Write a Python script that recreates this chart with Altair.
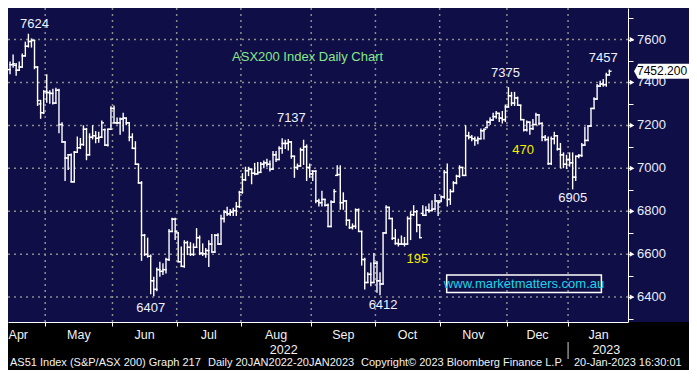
import altair as alt
import pandas as pd

# ---------------- data ----------------
opens = [
    7460, 7483, 7480, 7457, 7472, 7524, 7569, 7591, 7596, 7472, 7300, 7259,
    7358, 7353, 7349, 7304, 7364, 7204, 7123, 7048, 7063, 6937, 7075, 7096, 7111, 7182, 7063, 7145, 7152, 7140, 7145, 7180, 7108, 7182,
    7279, 7212, 7212, 7230, 7234, 7212, 7145, 7093, 7019, 6932, 6688, 6599, 6590, 6476, 6436, 6528, 6520, 6528, 6575, 6706, 6763,
    6699, 6565, 6543, 6654, 6632, 6599, 6632, 6677, 6605, 6602, 6617, 6647, 6610, 6688, 6647, 6766, 6796, 6788, 6796, 6803, 6822,
    6888, 6947, 6989, 6996, 6977, 6974, 6981, 7019, 7026, 7019, 6996, 7063, 7041, 7093, 7116, 7116, 7123, 7056, 7004, 7011, 7086, 7100, 7004,
    6974, 6986, 6848, 6840, 6855, 6828, 6729, 6843, 6967, 6971, 6840, 6848, 6758, 6724, 6730, 6807, 6706, 6575, 6468, 6506, 6468,
    6558, 6476, 6461, 6699, 6818, 6766, 6674, 6650, 6647, 6647, 6647, 6766, 6784, 6798, 6736, 6790, 6781, 6805, 6803, 6810, 6848,
    6848, 6867, 6981, 6855, 6892, 6932, 6963, 7004, 6967, 7152, 7145, 7138, 7130, 7138, 7175, 7190, 7215, 7225, 7241, 7256, 7234, 7227,
    7286, 7338, 7304, 7328, 7294, 7227, 7179, 7215, 7185, 7204, 7249, 7209, 7145, 7134, 7022, 7138, 7152, 7090, 7063, 7019,
    7040, 7026, 6959, 7056, 7060, 7108, 7130, 7197, 7279, 7323, 7383, 7393, 7390, 7435,
]
highs = [
    7494, 7527, 7487, 7494, 7532, 7587, 7624, 7602, 7596, 7472, 7316, 7361,
    7435, 7361, 7368, 7372, 7368, 7212, 7123, 7063, 7066, 7078, 7145, 7138, 7197, 7185, 7160, 7197, 7170, 7167, 7219, 7182, 7182, 7286,
    7289, 7234, 7234, 7256, 7234, 7212, 7160, 7123, 7019, 6937, 6691, 6674, 6595, 6491, 6535, 6561, 6555, 6580, 6714, 6766, 6766,
    6699, 6632, 6662, 6659, 6653, 6647, 6718, 6684, 6647, 6625, 6662, 6691, 6691, 6694, 6781, 6803, 6818, 6807, 6813, 6840, 6892,
    6974, 7004, 7004, 6996, 7022, 7026, 7026, 7033, 7041, 7033, 7078, 7078, 7100, 7137, 7130, 7133, 7123, 7056, 7019, 7093, 7130, 7108, 7019,
    6989, 6989, 6855, 6892, 6855, 6833, 6848, 6900, 7011, 7011, 6885, 6848, 6758, 6740, 6810, 6810, 6706, 6580, 6513, 6558, 6602,
    6565, 6513, 6699, 6825, 6818, 6766, 6714, 6669, 6684, 6677, 6773, 6796, 6825, 6803, 6736, 6825, 6820, 6833, 6848, 6877, 6848,
    6870, 6989, 7019, 6900, 6937, 6967, 7011, 7004, 7197, 7167, 7152, 7145, 7145, 7182, 7182, 7219, 7235, 7256, 7264, 7256, 7264, 7294,
    7375, 7353, 7353, 7331, 7294, 7227, 7219, 7215, 7227, 7256, 7249, 7212, 7152, 7145, 7145, 7167, 7152, 7115, 7071, 7060,
    7071, 7071, 7056, 7063, 7115, 7190, 7197, 7279, 7328, 7390, 7405, 7413, 7442, 7457,
]
lows = [
    7442, 7472, 7435, 7457, 7472, 7524, 7566, 7566, 7465, 7294, 7234, 7256,
    7309, 7304, 7301, 7304, 7167, 7123, 6944, 6996, 6937, 6937, 7075, 7093, 7108, 7041, 7063, 7138, 7120, 7123, 7145, 7108, 7105, 7182,
    7212, 7209, 7160, 7175, 7204, 7130, 7093, 7019, 6932, 6572, 6595, 6587, 6416, 6407, 6431, 6498, 6506, 6513, 6572, 6706, 6669,
    6565, 6543, 6540, 6599, 6595, 6595, 6632, 6599, 6595, 6587, 6543, 6610, 6610, 6647, 6647, 6751, 6781, 6781, 6781, 6781, 6818,
    6885, 6944, 6967, 6929, 6971, 6974, 6981, 7004, 7011, 6989, 6996, 7033, 7041, 7071, 7093, 7086, 7048, 6959, 6996, 7011, 7019, 6944, 6959,
    6944, 6840, 6825, 6825, 6825, 6729, 6729, 6843, 6967, 6810, 6810, 6736, 6721, 6718, 6721, 6706, 6550, 6439, 6468, 6454, 6468,
    6424, 6412, 6461, 6699, 6766, 6669, 6647, 6639, 6647, 6639, 6647, 6669, 6781, 6706, 6677, 6781, 6781, 6796, 6803, 6810, 6781,
    6845, 6862, 6825, 6833, 6892, 6929, 6959, 6967, 6967, 7138, 7130, 7108, 7115, 7138, 7138, 7190, 7205, 7225, 7234, 7219, 7212, 7219,
    7286, 7294, 7294, 7294, 7227, 7175, 7175, 7160, 7182, 7204, 7204, 7130, 7130, 7019, 7019, 7115, 7086, 7004, 7004, 7000,
    7011, 6905, 6944, 7050, 7056, 7108, 7130, 7197, 7279, 7323, 7383, 7383, 7383, 7435,
]
closes = [
    7483, 7487, 7457, 7472, 7524, 7569, 7591, 7596, 7472, 7316, 7259, 7358,
    7353, 7349, 7304, 7364, 7204, 7123, 7048, 7063, 6937, 7075, 7096, 7111, 7182, 7063, 7145, 7152, 7140, 7145, 7212, 7108, 7182, 7279,
    7212, 7212, 7230, 7234, 7212, 7145, 7093, 7019, 6932, 6688, 6599, 6590, 6476, 6436, 6528, 6520, 6528, 6575, 6706, 6763, 6706,
    6565, 6543, 6654, 6632, 6599, 6632, 6677, 6605, 6602, 6617, 6647, 6610, 6688, 6647, 6766, 6796, 6788, 6796, 6803, 6822, 6888,
    6947, 6989, 6996, 6977, 6974, 6981, 7019, 7026, 7019, 6996, 7063, 7041, 7093, 7116, 7116, 7123, 7056, 7004, 7011, 7086, 7100, 7004, 6974,
    6986, 6848, 6840, 6855, 6828, 6729, 6843, 6892, 6971, 6840, 6848, 6758, 6724, 6730, 6807, 6706, 6575, 6468, 6506, 6468, 6558,
    6476, 6461, 6699, 6818, 6766, 6674, 6650, 6647, 6647, 6647, 6766, 6784, 6798, 6736, 6677, 6781, 6805, 6803, 6810, 6848, 6840,
    6867, 6981, 6855, 6892, 6932, 6963, 7004, 6967, 7152, 7145, 7138, 7130, 7138, 7175, 7182, 7215, 7225, 7241, 7256, 7234, 7227, 7286,
    7338, 7304, 7328, 7294, 7227, 7179, 7215, 7185, 7204, 7249, 7209, 7145, 7134, 7022, 7138, 7152, 7090, 7063, 7019, 7040,
    7026, 6959, 7056, 7060, 7108, 7130, 7197, 7279, 7323, 7383, 7393, 7390, 7435, 7452.2,
]
last_price = 7452.2

months = ["Apr", "May", "Jun", "Jul", "Aug", "Sep", "Oct", "Nov", "Dec", "Jan"]
month_trading_days = [19, 22, 21, 21, 23, 21, 21, 22, 20, 20]
april_days_hidden = 7          # April sessions before the first visible bar
years = ["2022", "2023"]
year_under_month = ["Aug", "Jan"]

y_labels = [6400, 6600, 6800, 7000, 7200, 7400, 7600]
y_minor = [6300, 6500, 6700, 6900, 7100, 7300, 7500, 7700]

ann_text = ["7624", "7137", "6407", "6412", "7375", "7457", "6905", "195", "470",
            "ASX200 Index Daily Chart"]
ann_idx = [8.0, 92.0, 46.0, 122.0, 162.0, 194.0, 184.0, 133.2, 167.8, 97.3]
ann_val = [7671, 7234, 6347, 6365, 7444, 7515, 6864, 6579, 7087, 7520]
ann_col = ["#eef2ff"] * 7 + ["#f2f000", "#f2f000", "#86e88c"]

footer = ["AS51 Index (S&P/ASX 200) Graph 217", "Daily 20JAN2022-20JAN2023",
          "Copyright\u00a9 2023 Bloomberg Finance L.P.", "20-Jan-2023 16:30:01"]

# ---------------- derived tables ----------------
n = min(len(opens), len(highs), len(lows), len(closes))
bars = pd.DataFrame({"i": list(range(n)), "o": opens[:n], "h": highs[:n],
                     "l": lows[:n], "c": closes[:n]})

starts = []
s = -april_days_hidden
for d in month_trading_days:
    starts.append(s)
    s += d
mdf = pd.DataFrame({"m": months, "mid": [st + d / 2 - 0.5 for st, d in zip(starts, month_trading_days)]})
bounds = [st - 0.5 for st in starts[1:]]
bdf = pd.DataFrame({"b": bounds})
ydf = pd.DataFrame({"y": years,
                    "mid": [mdf.loc[mdf.m == m, "mid"].iloc[0] + 2.5 for m in year_under_month]})
jan_bound = pd.DataFrame({"b": [starts[-1] - 0.5]})
adf = pd.DataFrame({"t": ann_text, "i": ann_idx, "v": ann_val, "col": ann_col})

# ---------------- layout / style ----------------
W, H = 620, 314
TW, TH = 681, 362
NAVY = "#100e46"
GRID = "#8c8c8c"
LABEL = "#e9efff"
FONT = "Liberation Sans"

xscale = alt.Scale(domain=[-0.67, 202.1], nice=False, zero=False)
yscale = alt.Scale(domain=[6284, 7747], nice=False, zero=False)
xaxis = alt.Axis(title=None, values=bounds, labels=False, ticks=True, tickColor="white",
                 tickSize=4, domain=True, domainColor="white", grid=False, zindex=1)
yaxis = alt.Axis(title=None, orient="right", values=sorted(y_labels + y_minor), labels=False,
                 ticks=True, tickColor="white", tickSize=5, domain=True, domainColor="white",
                 grid=False, zindex=1)


def X(f):
    return alt.X(f, type="quantitative", scale=xscale, axis=xaxis)


def Y(f):
    return alt.Y(f, type="quantitative", scale=yscale, axis=yaxis)


one = pd.DataFrame({"a": [0]})

bg = alt.Chart(one).mark_rect(color=NAVY).encode(
    x=alt.value(0), x2=alt.value(TW), y=alt.value(0), y2=alt.value(H))

hgrid = alt.Chart(pd.DataFrame({"v": y_labels})).mark_rule(
    color=GRID, strokeDash=[2, 4], strokeWidth=1.5).encode(y=Y("v"))
vgrid = alt.Chart(bdf).mark_rule(
    color=GRID, strokeDash=[2, 4], strokeWidth=1.5).encode(x=X("b"))

hl = alt.Chart(bars).mark_rule(color="white", strokeWidth=1.4, strokeCap="square").encode(
    x=X("i"), y=Y("l"), y2="h:Q")
otick = alt.Chart(bars).transform_calculate(xl="datum.i - 0.5").mark_rule(
    color="white", strokeWidth=1.4, strokeCap="square").encode(x=X("xl"), x2="i:Q", y=Y("o"))
ctick = alt.Chart(bars).transform_calculate(xr="datum.i + 0.5").mark_rule(
    color="white", strokeWidth=1.4, strokeCap="square").encode(x=X("i"), x2="xr:Q", y=Y("c"))

ann = alt.Chart(adf).mark_text(font=FONT, fontSize=13, baseline="middle").encode(
    x=X("i"), y=Y("v"), text="t:N", color=alt.Color("col:N", scale=None))

wdf = pd.DataFrame({"x1": [142.8], "x2": [193.4], "y1": [6422], "y2": [6503],
                    "xm": [168.1], "ym": [6463], "t": ["www.marketmatters.com.au"]})
wbox = alt.Chart(wdf).mark_rect(fill=NAVY, fillOpacity=0, stroke="white", strokeWidth=1.5).encode(
    x=X("x1"), x2="x2:Q", y=Y("y1"), y2="y2:Q")
wtext = alt.Chart(wdf).mark_text(font=FONT, fontSize=13, color="#19d6e8", baseline="middle").encode(
    x=X("xm"), y=Y("ym"), text="t:N")

ylab_df = pd.DataFrame({"v": y_labels})
tri = alt.Chart(ylab_df).mark_point(shape="triangle-right", filled=True, size=28, color="white",
                                    opacity=1).encode(x=alt.value(W + 4), y=Y("v"))
ylab = alt.Chart(ylab_df).mark_text(font=FONT, fontSize=13, color=LABEL, align="left",
                                    baseline="middle").encode(
    x=alt.value(W + 9), y=Y("v"), text=alt.Text("v:Q", format="d"))

tag_df = pd.DataFrame({"v": [last_price], "t": [f"{last_price:.3f}"]})
tag = alt.Chart(tag_df).mark_point(
    shape="M -1 0 L -0.86 -0.25 L 1 -0.25 L 1 0.25 L -0.86 0.25 Z",
    filled=True, size=3600, color="white", opacity=1).encode(x=alt.value(W + 36), y=Y("v"))
tag_t = alt.Chart(tag_df).mark_text(font=FONT, fontSize=12, color="black", align="left",
                                    baseline="middle").encode(
    x=alt.value(W + 9), y=Y("v"), text="t:N")

mlab = alt.Chart(mdf).transform_calculate(mx="max(datum.mid, 2.7)").mark_text(
    font=FONT, fontSize=12.5, color="#f2f2f2", baseline="middle").encode(
    x=X("mx"), y=alt.value(H + 13), text="m:N")
ylab2 = alt.Chart(ydf).mark_text(font=FONT, fontSize=12.5, color="#f2f2f2", baseline="middle").encode(
    x=X("mid"), y=alt.value(H + 28), text="y:N")
divider = alt.Chart(jan_bound).mark_rule(color="#cfcfcf", strokeWidth=1).encode(
    x=X("b"), y=alt.value(H + 20), y2=alt.value(H + 37))

fdf = pd.DataFrame({"t": footer, "px": [2, 200, 353, 566]})
foot = alt.Chart(fdf).mark_text(font=FONT, fontSize=11, color="#f2f2f2", align="left",
                                baseline="middle").encode(
    x=alt.X("px:Q", scale=None, axis=None), y=alt.value(H + 41), text="t:N")

chart = alt.layer(
    bg, hgrid, vgrid, hl, otick, ctick, ann, wbox, wtext, tri, ylab, tag, tag_t,
    mlab, ylab2, divider, foot
).properties(
    width=W, height=H,
    autosize=alt.AutoSizeParams(type="none"),
    padding={"left": 0, "top": 0, "right": TW - W, "bottom": TH - H},
    background="black",
).configure_view(stroke=None)

chart.save("out.html", embed_options={"renderer": "svg", "actions": False})
